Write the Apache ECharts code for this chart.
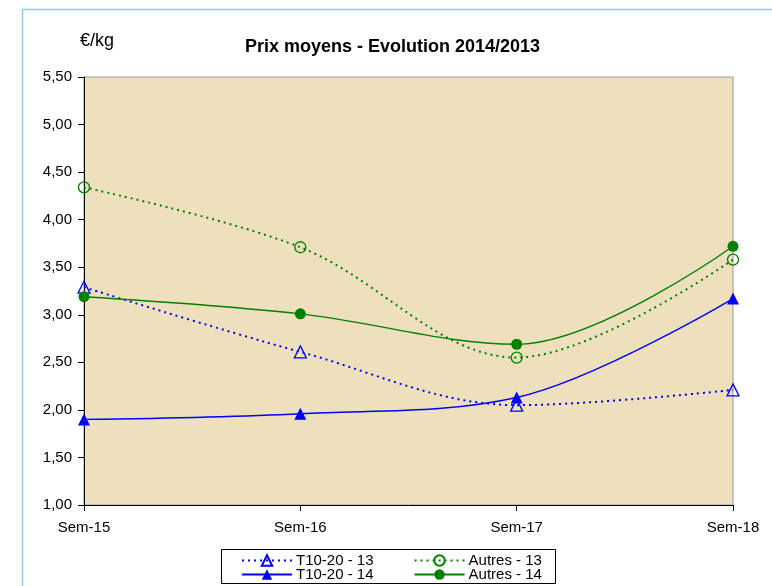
<!DOCTYPE html>
<html>
<head>
<meta charset="utf-8">
<script src="https://cdn.jsdelivr.net/npm/echarts@6/dist/echarts.min.js"></script>
<style>
html,body{margin:0;padding:0;background:#fff;}
#chart{width:772px;height:586px;}
</style>
</head>
<body>
<div id="chart"></div>
<script>
var categories = ['Sem-15', 'Sem-16', 'Sem-17', 'Sem-18'];
var t1020_13 = [3.29, 2.61, 2.05, 2.21];
var t1020_14 = [1.90, 1.96, 2.13, 3.17];
var autres_13 = [4.34, 3.71, 2.55, 3.58];
var autres_14 = [3.19, 3.01, 2.69, 3.72];
var legendRow1 = ['T10-20 - 13', 'Autres - 13'];
var legendRow2 = ['T10-20 - 14', 'Autres - 14'];
var yMin = 1.0, yMax = 5.5, yStep = 0.5;

var FONT = 'Liberation Sans, Arial, sans-serif';
var BLUE = '#0000FF', GREEN = '#008000';
var chart = echarts.init(document.getElementById('chart'));

function mk(name, data, color, dashed, filled, sym) {
  return {
    name: name, type: 'line', data: data, smooth: 0.35,
    symbol: sym, symbolSize: sym === 'triangle' ? 12 : 11,
    showAllSymbol: true,
    lineStyle: { color: color, width: dashed ? 2 : 1.4, type: dashed ? [2, 4] : 'solid' },
    itemStyle: { color: filled ? color : 'rgba(0,0,0,0)', borderColor: color, borderWidth: filled ? 0 : 1.3 },
    z: filled ? 3 : 2
  };
}

function legendCfg(data, top) {
  return {
    left: 241, top: top, width: 400,
    itemWidth: 50, itemHeight: 13, itemGap: 40,
    padding: 0,
    textStyle: { fontFamily: FONT, fontSize: 15, color: '#000', padding: [0, 0, 0, -1] },
    data: data
  };
}

chart.setOption({
  animation: false,
  backgroundColor: '#fff',
  title: {
    text: 'Prix moyens - Evolution 2014/2013',
    left: 245, top: 38, padding: 0,
    textStyle: { fontFamily: FONT, fontSize: 18, fontWeight: 'bold', color: '#000' }
  },
  graphic: [
    { type: 'rect', shape: { x: 22.5, y: 9.5, width: 800, height: 700 }, style: { fill: 'none', stroke: '#8ECFEA', lineWidth: 1.5 }, z: -10 },
    { type: 'text', left: 80, top: 32, style: { text: '€/kg', font: '18px ' + FONT, fill: '#000' } },
    { type: 'rect', shape: { x: 221.5, y: 549.5, width: 334, height: 34 }, style: { fill: '#fff', stroke: '#000', lineWidth: 1 }, z: -1 }
  ],
  legend: [legendCfg(legendRow1, 553), legendCfg(legendRow2, 567)],
  grid: {
    left: 84, right: 39, top: 77, bottom: 81,
    show: true, backgroundColor: '#EFE0BD', borderColor: '#999', borderWidth: 1
  },
  xAxis: {
    type: 'category', data: categories, boundaryGap: false,
    axisLine: { lineStyle: { color: '#000', width: 1 } },
    axisTick: { show: true, length: 6, lineStyle: { color: '#000' } },
    axisLabel: { fontFamily: FONT, fontSize: 15, color: '#000', margin: 15 },
    splitLine: { show: false }
  },
  yAxis: {
    type: 'value', min: yMin, max: yMax, interval: yStep,
    axisLine: { show: true, lineStyle: { color: '#000', width: 1 } },
    axisTick: { show: true, length: 6, lineStyle: { color: '#000' } },
    axisLabel: { fontFamily: FONT, fontSize: 15, color: '#000', margin: 12,
      formatter: function (v) { return v.toFixed(2).replace('.', ','); } },
    splitLine: { show: false }
  },
  series: [
    mk('T10-20 - 13', t1020_13, BLUE, true, false, 'triangle'),
    mk('Autres - 13', autres_13, GREEN, true, false, 'circle'),
    mk('T10-20 - 14', t1020_14, BLUE, false, true, 'triangle'),
    mk('Autres - 14', autres_14, GREEN, false, true, 'circle')
  ]
});
</script>
</body>
</html>
